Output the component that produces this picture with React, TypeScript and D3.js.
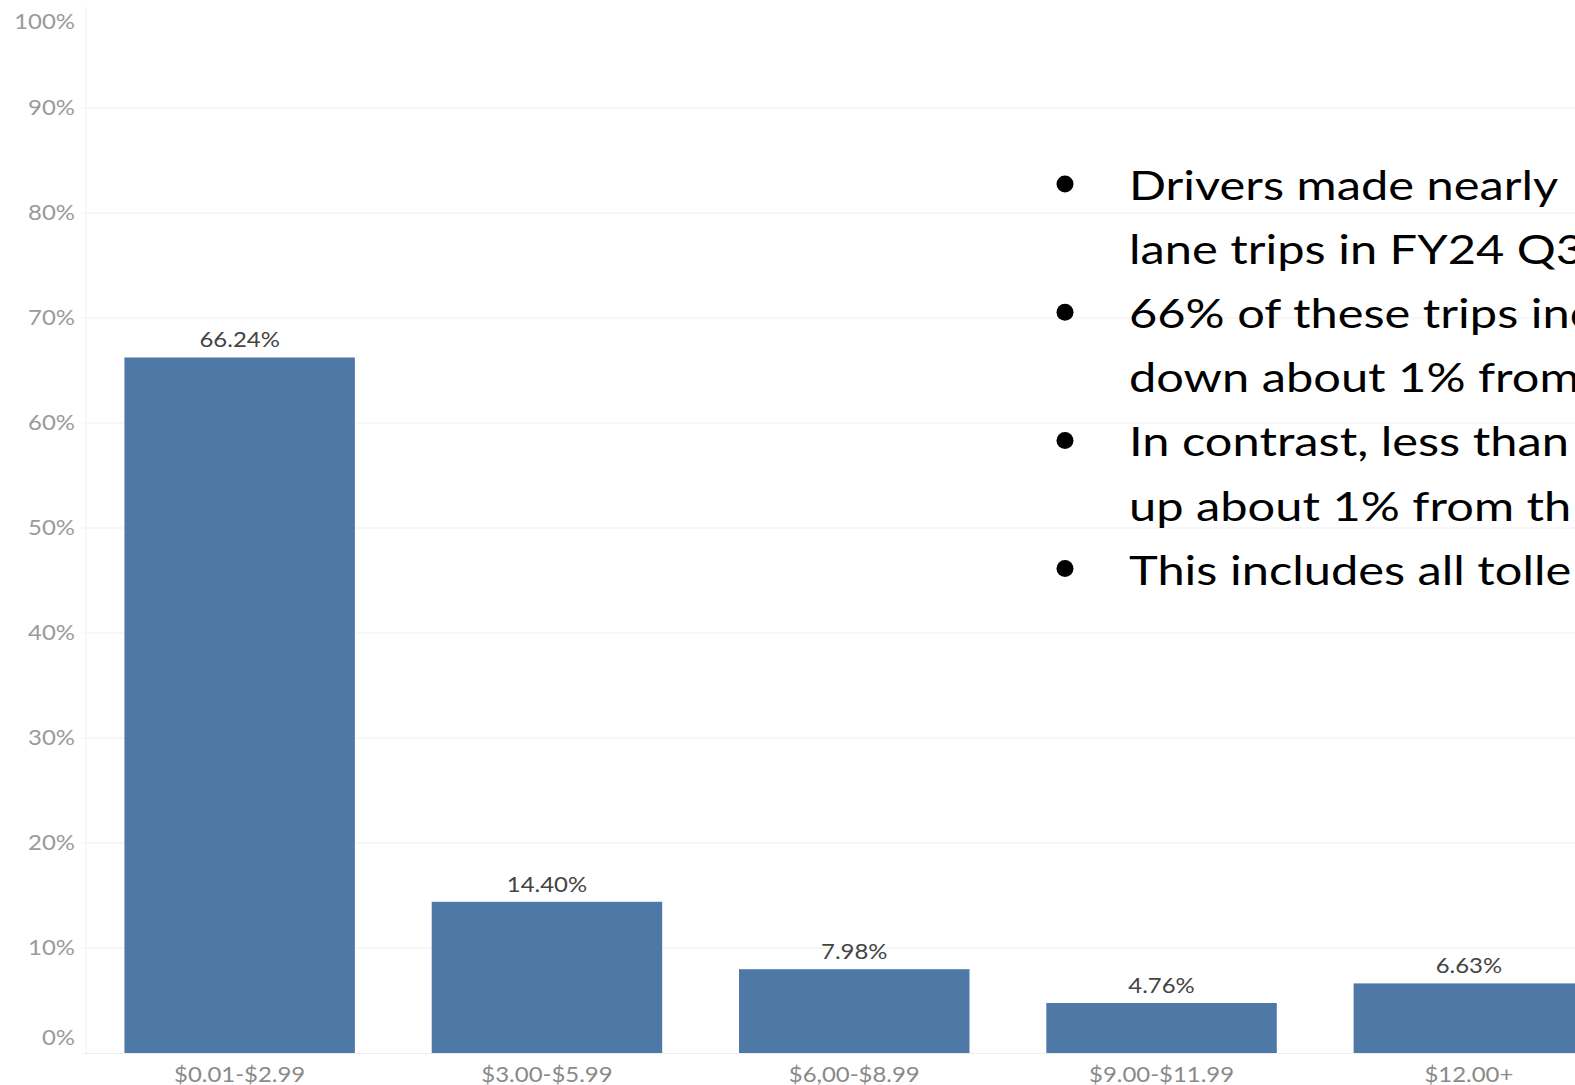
import React from "react";
import * as d3 from "d3";

const categories = ["$0.01-$2.99", "$3.00-$5.99", "$6,00-$8.99", "$9.00-$11.99", "$12.00+"];
const shares = [66.24, 14.4, 7.98, 4.76, 6.63];
const valueLabels = ["66.24%", "14.40%", "7.98%", "4.76%", "6.63%"];
const yTicks = [0, 10, 20, 30, 40, 50, 60, 70, 80, 90, 100];
const bullets = [
  ["Drivers made nearly", "lane trips in FY24 Q3"],
  ["66% of these trips inc", "down about 1% from"],
  ["In contrast, less than", "up about 1% from th"],
  ["This includes all tolle"],
];

const W = 1575;
const H = 1085;
const LABEL_SX = 1.14;
const BULLET_SX = 1.22;

export default function App() {
  const x = d3.scaleBand<string>().domain(categories).range([86, 1622.5]).paddingInner(0.25).paddingOuter(0.125);
  const y = d3.scaleLinear().domain([0, 100]).range([1053, 3]);
  const axisFont = "Lato, 'Open Sans', sans-serif";
  let lineIdx = 0;
  return (
    <svg
      width={W}
      height={H}
      style={{ position: "fixed", left: 0, top: 0, overflow: "hidden", background: "#fff" }}
    >
      <rect x={0} y={0} width={W} height={H} fill="#fff" />
      {/* gridlines */}
      {yTicks.filter((t) => t > 0 && t < 100).map((t) => (
        <line key={t} x1={82} x2={W} y1={y(t)} y2={y(t)} stroke="#efefef" strokeWidth={1} />
      ))}
      {/* axis lines */}
      <line x1={86} x2={86} y1={7} y2={y(0)} stroke="#f0f0f0" strokeWidth={1} />
      <line x1={82} x2={W} y1={y(0) + 0.5} y2={y(0) + 0.5} stroke="#eeeeee" strokeWidth={1} />
      {/* y labels */}
      {yTicks.map((t) => (
        <text
          key={t}
          transform={`translate(75,${Math.min(Math.max(y(t), 22), 1038)}) scale(${LABEL_SX},1)`}
          dy="0.35em"
          textAnchor="end"
          fontFamily={axisFont}
          fontSize={21}
          fill="#9a9a9a"
        >
          {t}%
        </text>
      ))}
      {/* bars */}
      {categories.map((c, i) => {
        const cx = (x(c) as number) + x.bandwidth() / 2;
        return (
          <g key={c}>
            <rect x={x(c)} y={y(shares[i])} width={x.bandwidth()} height={y(0) - y(shares[i])} fill="#4e79a7" />
            <text
              transform={`translate(${cx},${y(shares[i]) - 10}) scale(${LABEL_SX},1)`}
              textAnchor="middle"
              fontFamily={axisFont}
              fontSize={21}
              fill="#444"
            >
              {valueLabels[i]}
            </text>
            <text
              transform={`translate(${cx},1082) scale(${LABEL_SX},1)`}
              textAnchor="middle"
              fontFamily={axisFont}
              fontSize={21}
              fill="#8a8a8a"
            >
              {c}
            </text>
          </g>
        );
      })}
      {/* bullet text */}
      {bullets.map((b, bi) => {
        const startLine = lineIdx;
        lineIdx += b.length;
        return (
          <g key={bi}>
            <circle cx={1065} cy={200 + startLine * 64.1 - 16} r={8.5} fill="#000" />
            {b.map((ln, li) => (
              <text
                key={li}
                transform={`translate(1129,${200 + (startLine + li) * 64.1}) scale(${BULLET_SX},1)`}
                fontFamily="Lato, 'Open Sans', sans-serif"
                fontSize={40}
                fill="#000"
              >
                {ln}
              </text>
            ))}
          </g>
        );
      })}
    </svg>
  );
}
